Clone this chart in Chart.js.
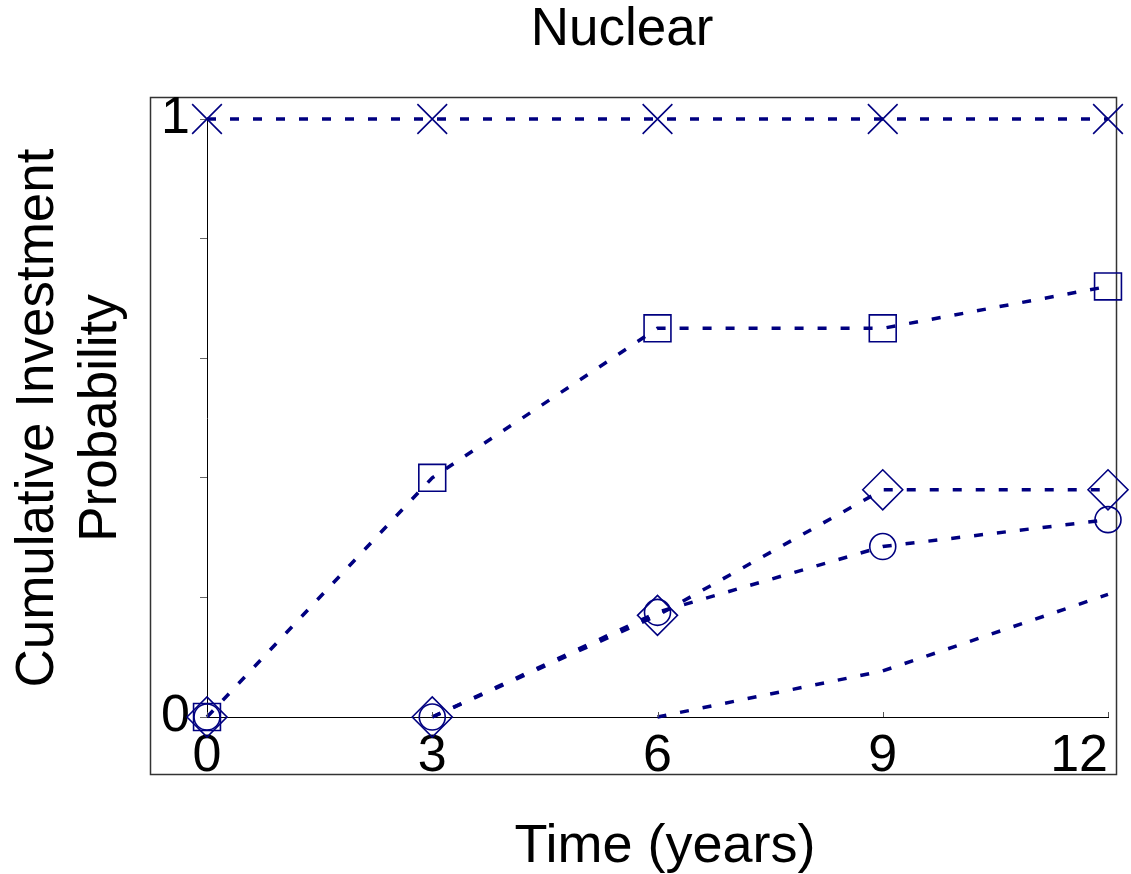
<!DOCTYPE html>
<html>
<head>
<meta charset="utf-8">
<script src="https://cdn.jsdelivr.net/npm/chart.js@4"></script>
<style>
  html, body { margin: 0; padding: 0; background: #fff; }
  canvas { display: block; }
</style>
</head>
<body>
<canvas id="c" width="1131" height="874"></canvas>
<script>
// values
var years = [0, 3, 6, 9, 12];
var crossVals = [1, 1, 1, 1, 1];
var squareVals = [0, 0.4, 0.65, 0.65, 0.72];
var diamondVals = [0, 0, 0.17, 0.38, 0.38];
var circleVals = [0, 0, 0.175, 0.285, 0.33];
var plainYears = [6, 9, 12];
var plainVals = [0, 0.077, 0.205];
var xTicks = [0, 3, 6, 9, 12];

var navy = '#000080';
var fontFamily = 'Liberation Sans, Arial, sans-serif';

function pts(xs, ys) {
    return xs.map(function (x, i) { return { x: x, y: ys[i] }; });
}

function series(label, xs, ys, style, radius) {
    return {
        label: label,
        data: pts(xs, ys),
        borderColor: navy,
        backgroundColor: 'rgba(0,0,0,0)',
        borderWidth: 3.5,
        borderDash: [9, 14],
        tension: 0,
        pointStyle: style,
        pointRadius: radius,
        pointHoverRadius: radius,
        pointBorderColor: navy,
        pointBackgroundColor: 'rgba(0,0,0,0)',
        pointBorderWidth: 1.6,
        clip: false,
        // no line is drawn where a curve runs flat along zero
        segment: {
            borderColor: function (c) {
                return (c.p0.parsed.y === 0 && c.p1.parsed.y === 0) ? 'rgba(0,0,0,0)' : undefined;
            }
        }
    };
}

// outer box, chart title and the small inward ticks on the time axis
var framePlugin = {
    id: 'frame',
    beforeDraw: function (chart) {
        var ctx = chart.ctx;
        ctx.save();
        ctx.strokeStyle = '#333';
        ctx.lineWidth = 1.5;
        ctx.strokeRect(150.5, 97.5, 966, 677);
        ctx.fillStyle = '#000';
        ctx.font = '53px ' + fontFamily;
        ctx.textAlign = 'center';
        ctx.textBaseline = 'middle';
        ctx.fillText('Nuclear', 622, 30);
        ctx.restore();
    },
    afterDraw: function (chart) {
        var ctx = chart.ctx;
        var xs = chart.scales.x;
        var bottom = chart.chartArea.bottom;
        ctx.save();
        ctx.strokeStyle = '#555';
        ctx.lineWidth = 1;
        xTicks.forEach(function (t) {
            var px = Math.round(xs.getPixelForValue(t)) + 0.5;
            ctx.beginPath();
            ctx.moveTo(px, bottom);
            ctx.lineTo(px, bottom - 5);
            ctx.stroke();
        });
        ctx.restore();
    }
};

new Chart(document.getElementById('c'), {
    type: 'line',
    data: {
        datasets: [
            series('plain', plainYears, plainVals, false, 0),
            series('circle', years, circleVals, 'circle', 13),
            series('diamond', years, diamondVals, 'rectRot', 20),
            series('square', years, squareVals, 'rect', 19),
            series('cross', years, crossVals, 'crossRot', 21)
        ]
    },
    options: {
        responsive: false,
        animation: false,
        layout: { padding: { left: 0, right: 23, top: 119, bottom: 0 } },
        plugins: {
            legend: { display: false },
            tooltip: { enabled: false },
            title: { display: false }
        },
        scales: {
            x: {
                type: 'linear',
                min: 0,
                max: 12,
                afterFit: function (s) {
                    s.height = 157;
                    s.paddingLeft = 0;
                    s.paddingRight = 0;
                },
                afterBuildTicks: function (s) {
                    s.ticks = xTicks.map(function (v) { return { value: v }; });
                },
                grid: { display: false },
                border: { display: true, color: '#000', width: 1 },
                ticks: {
                    color: '#000',
                    padding: 0,
                    maxRotation: 0,
                    font: { family: fontFamily, size: 52 },
                    callback: function (v) {
                        // last label sits left of its tick in the picture
                        return v === 12 ? '12    ' : String(v);
                    }
                },
                title: {
                    display: true,
                    text: ' Time (years)',
                    color: '#000',
                    font: { family: fontFamily, size: 54, lineHeight: 1 },
                    padding: { top: 0, bottom: 0 }
                }
            },
            y: {
                min: 0,
                max: 1,
                afterFit: function (s) { s.width = 207; },
                grid: {
                    drawOnChartArea: false,
                    drawTicks: true,
                    tickLength: 7,
                    color: '#666'
                },
                border: { display: true, color: '#000', width: 1 },
                ticks: {
                    stepSize: 0.2,
                    color: '#000',
                    padding: 10,
                    font: { family: fontFamily, size: 52 },
                    callback: function (v) {
                        if (v === 0) return '0';
                        if (v === 1) return '1';
                        return '';
                    }
                },
                title: {
                    display: true,
                    text: ['Cumulative Investment', 'Probability'],
                    color: '#000',
                    font: { family: fontFamily, size: 53, lineHeight: 1.19 },
                    padding: { top: 7, bottom: 0 }
                }
            }
        }
    },
    plugins: [framePlugin]
});
</script>
</body>
</html>
